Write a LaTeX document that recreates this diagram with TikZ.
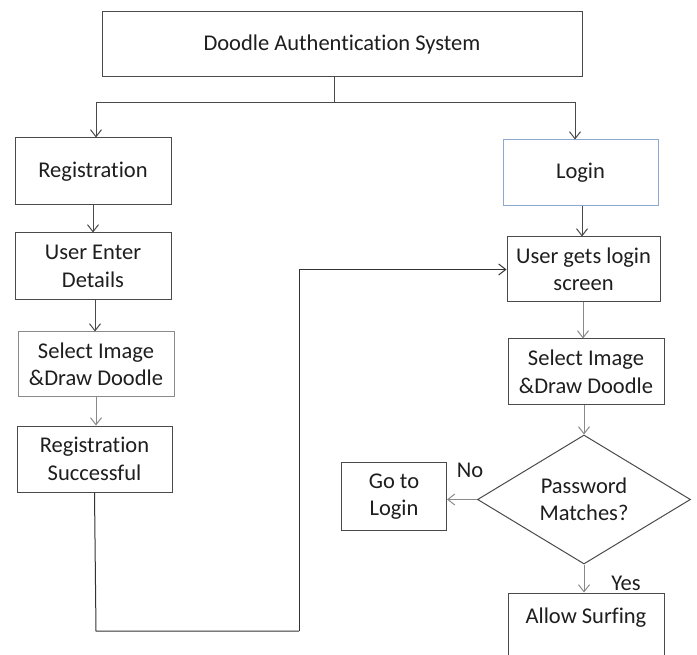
\documentclass[tikz,border=0pt]{standalone}
\usepackage{fontspec}
\setmainfont{Carlito}[Ligatures=NoCommon]
\usetikzlibrary{arrows.meta,shapes.geometric}
\definecolor{linegray}{HTML}{4A4A4A}
\definecolor{lightgray2}{HTML}{8A8A8A}
\definecolor{loginblue}{HTML}{8EA9D0}
\definecolor{txt}{HTML}{1E1E1E}
\tikzset{
  box/.style={draw=linegray, line width=1pt, rectangle, inner sep=0pt, align=center,
    text=txt, font=\fontsize{22.5}{27.5}\selectfont},
  decision/.style={draw=linegray, line width=1pt, diamond, shape aspect=1.65, inner sep=0pt,
    align=center, text=txt, font=\fontsize{22.5}{27.5}\selectfont,
    minimum width=213pt, minimum height=129pt},
  conn/.style={draw=linegray, line width=1pt},
  arr/.style={conn, -{Straight Barb[length=7pt,width=11pt,line width=1pt]}},
  lbl/.style={text=txt, font=\fontsize{22.5}{27.5}\selectfont, inner sep=0pt}
}
\begin{document}
\begin{tikzpicture}[x=1pt,y=-1pt]
\useasboundingbox (0,0) rectangle (697,655);
\clip (0,0) rectangle (697,655);
\fill[white] (0,0) rectangle (697,655);

% nodes
\node[box, minimum width=480pt, minimum height=65pt] (top) at (342,44.5) {Doodle Authentication System};
\node[box, minimum width=156pt, minimum height=67pt] (reg) at (93,171.5) {Registration};
\node[box, minimum width=156pt, minimum height=67pt] (ued) at (93,266.5) {User Enter\\Details};
\node[box, draw=lightgray2, minimum width=156pt, minimum height=65pt] (sel1) at (96,364.5) {Select Image\\\&Draw Doodle};
\node[box, minimum width=155pt, minimum height=66pt] (rs) at (94.5,459) {Registration\\Successful};

\node[box, draw=loginblue, minimum width=155pt, minimum height=66pt] (login) at (580.5,173) {Login};
\node[box, minimum width=153pt, minimum height=65pt] (ugl) at (583.5,269.5) {User gets login\\screen};
\node[box, minimum width=156pt, minimum height=66pt] (sel2) at (586,372) {Select Image\\\&Draw Doodle};
\node[decision] (dia) at (584,499.5) {Password\\Matches?};
\node[box, minimum width=105pt, minimum height=68pt] (go) at (394,496.7) {Go to\\Login};
\node[box, minimum width=156pt, minimum height=66pt, text height=15pt, text depth=21pt] (surf) at (586,626) {Allow Surfing};

\node[lbl] (no) at (470,470) {No};
\node[lbl] (yes) at (626,583) {Yes};

% connector coordinates
\coordinate (split) at (334,103);
\coordinate (lb) at (96,103);
\coordinate (rb) at (575,103);
\coordinate (c1) at (96,631);
\coordinate (c2) at (299,631);
\coordinate (xa) at (95,0);
\coordinate (xb) at (582,0);
\coordinate (xc) at (583,0);

% connectors
\draw[conn] (top.south -| split) -- (split);
\draw[arr] (split) -- (lb) -- (lb |- reg.north);
\draw[arr] (split) -- (rb) -- (rb |- login.north);
\draw[arr] (reg) -- (ued);
\draw[arr] (ued.south -| xa) -- (sel1.north -| xa);
\draw[arr, draw=lightgray2] (sel1) -- (rs.north -| sel1);
\draw[conn, draw=black!80] (rs.south) -- (c1) -- (c2);
\draw[arr, draw=black!80] (c2) |- (ugl.west);
\draw[arr] (login.south -| xb) -- (ugl.north -| xb);
\draw[arr, draw=lightgray2] (ugl.south -| xc) -- (sel2.north -| xc);
\draw[arr, draw=lightgray2] (sel2.south -| dia) -- (dia.north);
\draw[arr, draw=lightgray2] (dia.west) -- (go.east |- dia.west);
\draw[arr, draw=lightgray2] (dia.south) -- (surf.north -| dia.south);
\end{tikzpicture}
\end{document}
